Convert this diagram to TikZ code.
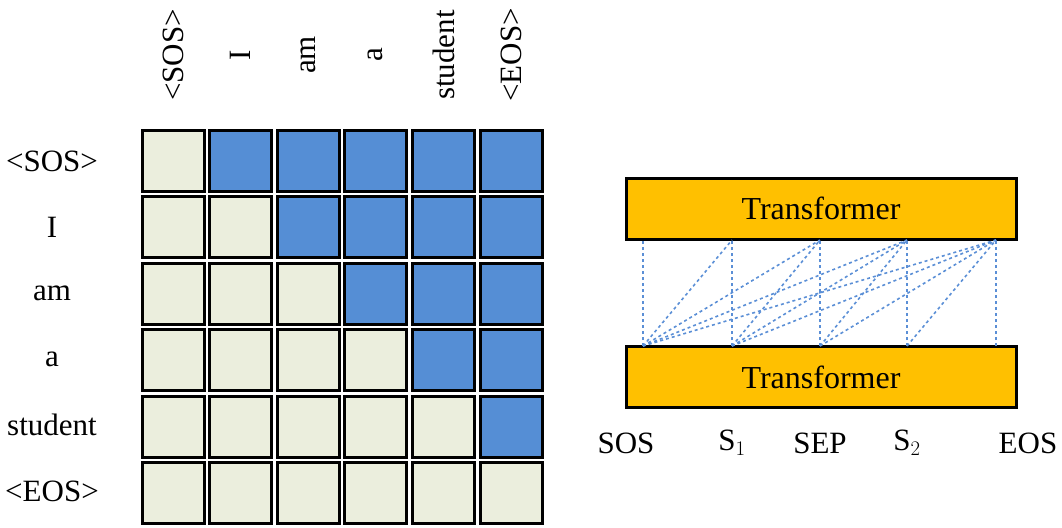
\documentclass[tikz,border=0pt]{standalone}
\usepackage{fontspec}
\setmainfont{Liberation Serif}
\begin{document}
\begin{tikzpicture}[x=1pt,y=-1pt,
  lab/.style={font=\fontsize{31}{34}\selectfont,inner sep=0pt},
  cell/.style={draw=black,line width=3pt,minimum width=62pt,minimum height=61pt,inner sep=0pt},
  low/.style={cell,fill=cream},
  up/.style={cell,fill=maskblue},
  tbox/.style={draw=black,line width=3pt,fill=tforange,minimum width=390pt,minimum height=61pt,font=\fontsize{32}{34}\selectfont},
  att/.style={draw=lineblue,dashed,line width=1.6pt}]
\definecolor{cream}{HTML}{EBEEDD}
\definecolor{maskblue}{HTML}{558ED5}
\definecolor{tforange}{HTML}{FFC000}
\definecolor{lineblue}{HTML}{5B8FD6}
\useasboundingbox (0,0) rectangle (1062,527);
\foreach \r/\t in {0/{<SOS>},1/I,2/am,3/a,4/student,5/{<EOS>}}{
  \node[lab] (row\r) at (52,{161+66*\r}) {\t};
  \node[lab,rotate=90] (col\r) at ({173+67.6*\r},55) {\t};
}
\foreach \r in {0,...,5}{
  \foreach \c in {0,...,5}{
    \ifnum\c>\r
      \node[up] (c\r\c) at ({173+67.6*\c},{161+66.4*\r}) {};
    \else
      \node[low] (c\r\c) at ({173+67.6*\c},{161+66.4*\r}) {};
    \fi
  }
}
\node[tbox] (top) at (821,208.5) {Transformer};
\node[tbox] (bot) at (821,377) {Transformer};
\foreach \i/\x in {1/643,2/732,3/820,4/907,5/996}{
  \coordinate (t\i) at (\x,240);
  \coordinate (b\i) at (\x,346);
}
\foreach \i in {1,...,5}{
  \foreach \j in {\i,...,5}{
    \draw[att] (b\i) -- (t\j);
  }
}
\node[lab] (sos) at (626,443) {SOS};
\node[lab] (s1) at (732,443) {S$_1$};
\node[lab] (sep) at (820,443) {SEP};
\node[lab] (s2) at (907,443) {S$_2$};
\node[lab] (eos) at (1028,443) {EOS};
\end{tikzpicture}
\end{document}
